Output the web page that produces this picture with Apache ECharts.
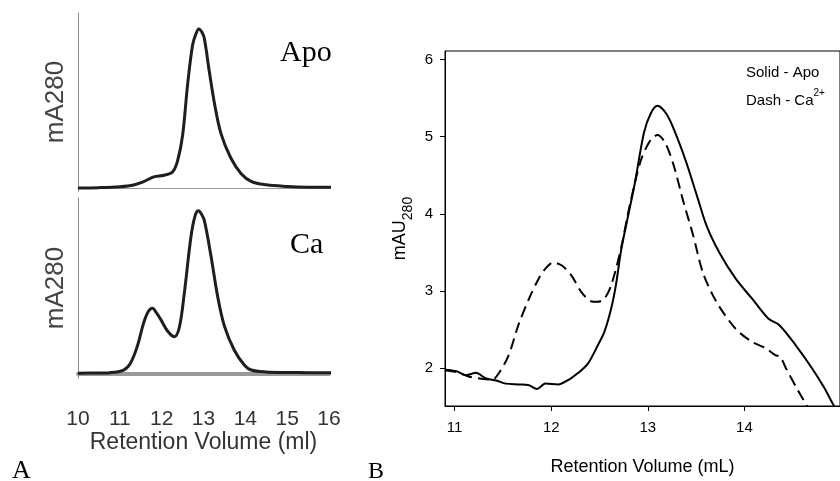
<!DOCTYPE html>
<html>
<head>
<meta charset="utf-8">
<script src="https://cdn.jsdelivr.net/npm/echarts@6/dist/echarts.min.js"></script>
<style>html,body{margin:0;padding:0;background:#fff;}#c{width:840px;height:481px;}</style>
</head>
<body>
<div id="c"></div>
<script>
// Panel A (normalized traces)
const apoA_x = [10.0, 10.5, 11.0, 11.33, 11.57, 11.81, 12.06, 12.26, 12.38, 12.50, 12.62, 12.74, 12.82, 12.89, 12.96, 13.02, 13.14, 13.27, 13.42, 13.65, 13.90, 14.15, 14.5, 15.0, 15.5, 16.05];
const apoA_y = [0.0, 0.002, 0.008, 0.019, 0.04, 0.07, 0.08, 0.10, 0.17, 0.33, 0.65, 0.90, 0.97, 1.0, 0.98, 0.94, 0.73, 0.52, 0.34, 0.19, 0.09, 0.04, 0.02, 0.01, 0.005, 0.004];
const caA_x = [10.0, 10.5, 10.77, 11.09, 11.25, 11.41, 11.57, 11.68, 11.78, 11.88, 11.98, 12.14, 12.30, 12.42, 12.54, 12.70, 12.80, 12.88, 12.95, 13.02, 13.18, 13.34, 13.50, 13.74, 13.98, 14.14, 14.5, 15.0, 15.5, 16.05];
const caA_y = [0.0, 0.002, 0.004, 0.02, 0.06, 0.16, 0.31, 0.38, 0.40, 0.37, 0.33, 0.26, 0.225, 0.28, 0.49, 0.84, 0.97, 1.0, 0.98, 0.94, 0.72, 0.47, 0.29, 0.14, 0.05, 0.02, 0.008, 0.005, 0.004, 0.004];
const ticksA = [10, 11, 12, 13, 14, 15, 16];

// Panel B
const apoB_x = [10.90, 11.02, 11.12, 11.22, 11.32, 11.43, 11.53, 11.66, 11.77, 11.85, 11.94, 12.07, 12.18, 12.28, 12.38, 12.48, 12.55, 12.62, 12.67, 12.72, 12.76, 12.86, 12.96, 13.03, 13.10, 13.20, 13.30, 13.40, 13.51, 13.61, 13.74, 13.91, 14.08, 14.25, 14.36, 14.53, 14.70, 14.83, 14.92, 15.0];
const apoB_y = [1.98, 1.96, 1.91, 1.94, 1.87, 1.84, 1.80, 1.79, 1.78, 1.73, 1.80, 1.79, 1.85, 1.94, 2.06, 2.29, 2.47, 2.77, 3.08, 3.50, 3.76, 4.36, 5.05, 5.30, 5.40, 5.28, 5.00, 4.66, 4.23, 3.84, 3.50, 3.16, 2.90, 2.64, 2.56, 2.30, 2.00, 1.74, 1.53, 1.38];
const caB_x = [10.90, 11.02, 11.15, 11.29, 11.39, 11.46, 11.56, 11.66, 11.77, 11.87, 11.94, 12.02, 12.11, 12.21, 12.31, 12.41, 12.48, 12.55, 12.62, 12.72, 12.82, 12.93, 13.03, 13.10, 13.18, 13.27, 13.37, 13.47, 13.57, 13.71, 13.91, 14.08, 14.22, 14.32, 14.37, 14.43, 14.56, 14.65, 14.70];
const caB_y = [1.97, 1.95, 1.89, 1.86, 1.85, 1.94, 2.17, 2.56, 2.90, 3.16, 3.29, 3.37, 3.33, 3.20, 2.99, 2.87, 2.86, 2.90, 3.07, 3.54, 4.15, 4.70, 4.96, 5.02, 4.92, 4.62, 4.15, 3.72, 3.24, 2.86, 2.51, 2.34, 2.26, 2.17, 2.15, 2.00, 1.70, 1.51, 1.42];
const ticksBx = [11, 12, 13, 14];
const ticksBy = [2, 3, 4, 5, 6];

const zip = (xs, ys) => xs.map((x, i) => [x, ys[i]]);
const chart = echarts.init(document.getElementById('c'), null, {renderer: 'canvas'});
const aFont = 'Liberation Sans, Arial, sans-serif';
const lineA = {color: '#1e1e1e', width: 3};

chart.setOption({
  animation: false,
  grid: [
    {left: 78, top: 13, width: 251, height: 178},
    {left: 78, top: 198, width: 251, height: 180},
    {left: 445, top: 51, width: 400, height: 357, show: true, borderColor: '#000', borderWidth: 1}
  ],
  xAxis: [
    {gridIndex: 0, type: 'value', min: 10, max: 16, axisLine: {lineStyle: {color: '#999', width: 1}}, axisTick: {show: false}, axisLabel: {show: false}, splitLine: {show: false}},
    {gridIndex: 1, type: 'value', min: 10, max: 16, interval: 1,
      axisLine: {lineStyle: {color: '#999', width: 4}}, axisTick: {show: false},
      axisLabel: {fontSize: 21, color: '#333', margin: 31, fontFamily: aFont, customValues: ticksA},
      splitLine: {show: false},
      name: 'Retention Volume (ml)', nameLocation: 'middle', nameGap: 47,
      nameTextStyle: {fontSize: 23, color: '#333', fontFamily: aFont}},
    {gridIndex: 2, type: 'value', min: 10.9, max: 14.99,
      axisLine: {lineStyle: {color: '#000', width: 1}},
      axisTick: {length: 5, lineStyle: {color: '#000'}, customValues: ticksBx},
      axisLabel: {fontSize: 15, color: '#000', margin: 14, fontFamily: aFont, customValues: ticksBx},
      splitLine: {show: false},
      name: 'Retention Volume (mL)', nameLocation: 'middle', nameGap: 52,
      nameTextStyle: {fontSize: 18, color: '#000', fontFamily: aFont}}
  ],
  yAxis: [
    {gridIndex: 0, type: 'value', min: -0.019, max: 1.10, axisLine: {show: true, lineStyle: {color: '#888'}}, axisTick: {show: false}, axisLabel: {show: false}, splitLine: {show: false},
      name: 'mA280', nameLocation: 'middle', nameGap: 9, nameTextStyle: {fontSize: 26, color: '#444', fontFamily: aFont}},
    {gridIndex: 1, type: 'value', min: -0.029, max: 1.078, axisLine: {show: true, lineStyle: {color: '#888'}}, axisTick: {show: false}, axisLabel: {show: false}, splitLine: {show: false},
      name: 'mA280', nameLocation: 'middle', nameGap: 9, nameTextStyle: {fontSize: 26, color: '#444', fontFamily: aFont}},
    {gridIndex: 2, type: 'value', min: 1.51, max: 6.11,
      axisLine: {show: true, lineStyle: {color: '#000', width: 1}},
      axisTick: {show: true, length: 5, lineStyle: {color: '#000'}, customValues: ticksBy},
      axisLabel: {fontSize: 15, color: '#000', margin: 12, fontFamily: aFont, customValues: ticksBy},
      splitLine: {show: false},
      name: '{m|mAU}{s|280}', nameLocation: 'middle', nameGap: 30,
      nameTextStyle: {color: '#000', fontFamily: aFont, rich: {m: {fontSize: 18, fontFamily: aFont, verticalAlign: 'top', lineHeight: 24}, s: {fontSize: 14, fontFamily: aFont, verticalAlign: 'bottom', lineHeight: 24}}}}
  ],
  series: [
    {type: 'line', xAxisIndex: 0, yAxisIndex: 0, data: zip(apoA_x, apoA_y), smooth: 0.35, showSymbol: false, lineStyle: lineA},
    {type: 'line', xAxisIndex: 1, yAxisIndex: 1, data: zip(caA_x, caA_y), smooth: 0.35, showSymbol: false, lineStyle: lineA},
    {type: 'line', xAxisIndex: 2, yAxisIndex: 2, data: zip(apoB_x, apoB_y), smooth: 0.3, showSymbol: false, lineStyle: {color: '#000', width: 2}},
    {type: 'line', xAxisIndex: 2, yAxisIndex: 2, data: zip(caB_x, caB_y), smooth: 0.3, showSymbol: false, lineStyle: {color: '#000', width: 2, type: [11, 6]}}
  ],
  graphic: [
    {type: 'text', x: 280, y: 53, style: {text: 'Apo', font: '30px "Liberation Serif", "Times New Roman", serif', fill: '#000', verticalAlign: 'middle'}},
    {type: 'text', x: 290, y: 245, style: {text: 'Ca', font: '30px "Liberation Serif", "Times New Roman", serif', fill: '#000', verticalAlign: 'middle'}},
    {type: 'text', x: 12, y: 471, style: {text: 'A', font: '26px "Liberation Serif", "Times New Roman", serif', fill: '#000', verticalAlign: 'middle'}},
    {type: 'text', x: 368, y: 472, style: {text: 'B', font: '24px "Liberation Serif", "Times New Roman", serif', fill: '#000', verticalAlign: 'middle'}},
    {type: 'text', x: 746, y: 73, style: {text: 'Solid - Apo', font: '15px "Liberation Sans", Arial, sans-serif', fill: '#000', verticalAlign: 'middle'}},
    {type: 'text', x: 746, y: 98, style: {text: '{m|Dash - Ca}{s|2+}', fill: '#000', verticalAlign: 'middle',
      rich: {m: {fontSize: 15, fontFamily: 'Liberation Sans, Arial, sans-serif', verticalAlign: 'bottom', lineHeight: 20}, s: {fontSize: 10, fontFamily: 'Liberation Sans, Arial, sans-serif', verticalAlign: 'top', lineHeight: 20}}}}
  ]
});
</script>
</body>
</html>
